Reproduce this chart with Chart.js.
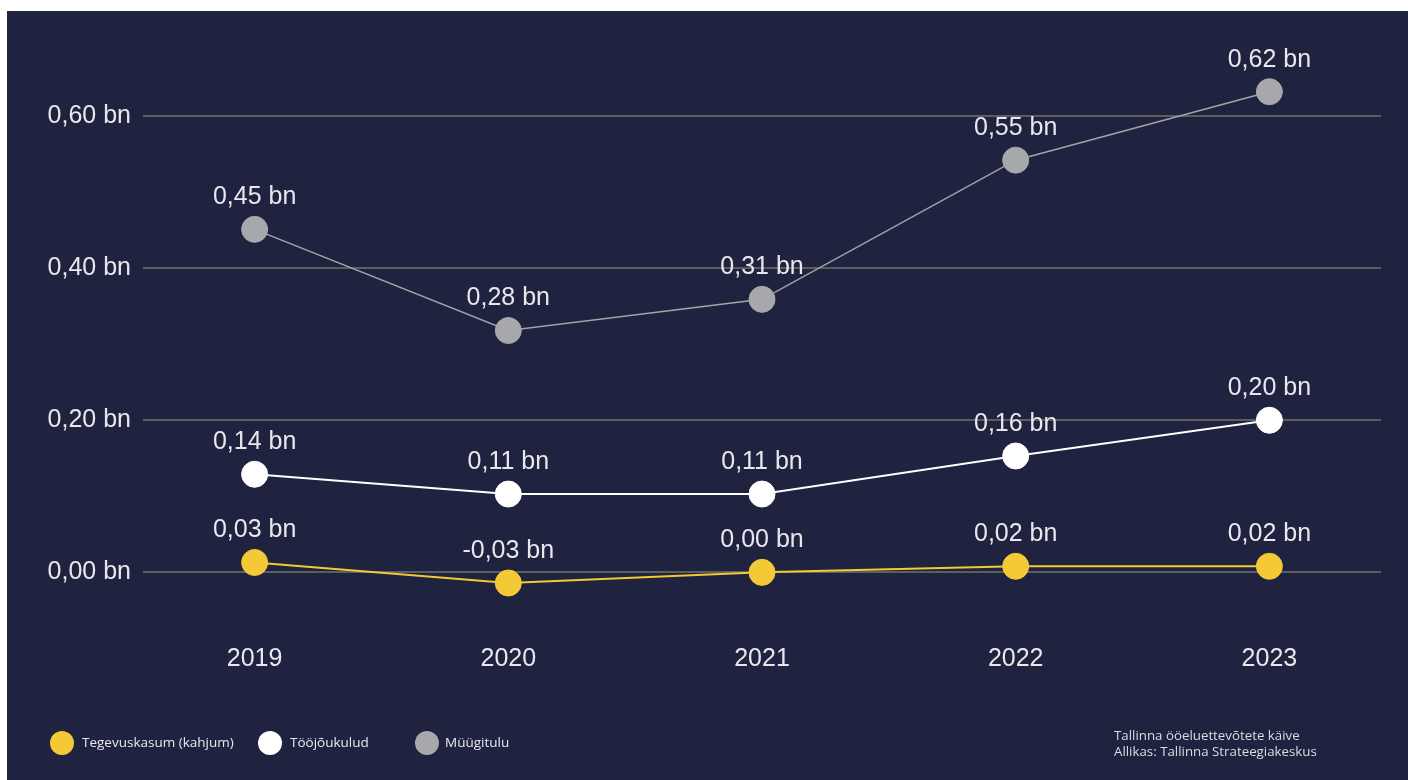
<!DOCTYPE html>
<html>
<head>
<meta charset="utf-8">
<script src="https://cdn.jsdelivr.net/npm/chart.js@4.4.1/dist/chart.umd.min.js"></script>
<style>
  html, body { margin: 0; padding: 0; background: #ffffff; width: 1408px; height: 780px; overflow: hidden; }
  #wrap { position: absolute; left: 7px; top: 11px; width: 1401px; height: 769px; background: #1f2340; }
  #chart { position: absolute; left: 0; top: 0; }
  .leg { position: absolute; font-family: "Open Sans", "Noto Sans", sans-serif; font-size: 13.5px; color: #e9e9ee; line-height: 16px; }
  .dot { position: absolute; width: 24px; height: 24px; border-radius: 50%; }
  #src { position: absolute; left: 1107px; top: 716px; font-family: "Open Sans", "Noto Sans", sans-serif; font-size: 13.3px; line-height: 16px; color: #dcdce2; }
</style>
</head>
<body>
<div id="wrap">
  <canvas id="chart" width="1401" height="769"></canvas>
  <div class="dot" style="left:43px;top:720px;background:#f3ca35"></div>
  <div class="leg" style="left:75px;top:723px">Tegevuskasum (kahjum)</div>
  <div class="dot" style="left:251px;top:720px;background:#ffffff"></div>
  <div class="leg" style="left:283px;top:723px">Tööjõukulud</div>
  <div class="dot" style="left:408px;top:720px;background:#a7a8ab"></div>
  <div class="leg" style="left:438px;top:723px">Müügitulu</div>
  <div id="src">Tallinna ööeluettevõtete käive<br>Allikas: Tallinna Strateegiakeskus</div>
</div>
<script>
const years = [2019, 2020, 2021, 2022, 2023];
const yTicks = [0, 0.2, 0.4, 0.6];
const yTickLabels = ["0,00 bn", "0,20 bn", "0,40 bn", "0,60 bn"];

const tegevuskasum = [0.013, -0.014, 0.0, 0.008, 0.008];
const tegevuskasumLabels = ["0,03 bn", "-0,03 bn", "0,00 bn", "0,02 bn", "0,02 bn"];

const toojoukulud = [0.129, 0.103, 0.103, 0.153, 0.20];
const toojoukuludLabels = ["0,14 bn", "0,11 bn", "0,11 bn", "0,16 bn", "0,20 bn"];

const myygitulu = [0.451, 0.318, 0.359, 0.542, 0.632];
const myygituluLabels = ["0,45 bn", "0,28 bn", "0,31 bn", "0,55 bn", "0,62 bn"];

const textFont = '"Liberation Sans", Arial, sans-serif';

function pts(vals) { return vals.map((v, i) => ({ x: years[i], y: v })); }

const labelPlugin = {
  id: 'pointLabels',
  afterDatasetsDraw(chart) {
    const ctx = chart.ctx;
    ctx.save();
    ctx.font = '25px ' + textFont;
    ctx.fillStyle = '#e8e8ec';
    ctx.textAlign = 'center';
    ctx.textBaseline = 'middle';
    chart.data.datasets.forEach((ds, di) => {
      const meta = chart.getDatasetMeta(di);
      meta.data.forEach((el, i) => {
        ctx.fillText(ds.valueLabels[i], el.x, el.y - 32);
      });
    });
    ctx.restore();
  }
};

new Chart(document.getElementById('chart'), {
  type: 'line',
  data: {
    datasets: [
      { label: 'Tegevuskasum (kahjum)', data: pts(tegevuskasum), valueLabels: tegevuskasumLabels,
        borderColor: '#f3ca35', backgroundColor: '#f3ca35', pointBackgroundColor: '#f3ca35', pointBorderColor: '#f3ca35',
        borderWidth: 2, pointRadius: 13, pointBorderWidth: 1, pointHoverRadius: 13 },
      { label: 'Tööjõukulud', data: pts(toojoukulud), valueLabels: toojoukuludLabels,
        borderColor: '#ffffff', backgroundColor: '#ffffff', pointBackgroundColor: '#ffffff', pointBorderColor: '#ffffff',
        borderWidth: 2, pointRadius: 13, pointBorderWidth: 1, pointHoverRadius: 13 },
      { label: 'Müügitulu', data: pts(myygitulu), valueLabels: myygituluLabels,
        borderColor: '#a3a4a7', backgroundColor: '#a7a8ab', pointBackgroundColor: '#a7a8ab', pointBorderColor: '#a7a8ab',
        borderWidth: 1.5, pointRadius: 13, pointBorderWidth: 1, pointHoverRadius: 13 }
    ]
  },
  options: {
    responsive: false,
    animation: false,
    layout: { padding: { top: 29, right: 27, left: 0, bottom: 0 } },
    plugins: { legend: { display: false }, tooltip: { enabled: false } },
    scales: {
      x: {
        type: 'linear', min: 2018.56, max: 2023.44,
        grid: { display: false }, border: { display: false },
        afterBuildTicks(s) { s.ticks = years.map(v => ({ value: v })); },
        afterFit(s) { s.height = 162; },
        ticks: { padding: 18, color: '#e8e8ec', font: { family: textFont, size: 25 },
          callback: (v) => String(v) }
      },
      y: {
        min: -0.06, max: 0.70,
        border: { display: false },
        grid: { color: '#5b5e5c', lineWidth: 2, drawTicks: false },
        afterBuildTicks(s) { s.ticks = yTicks.map(v => ({ value: v })); },
        afterFit(s) { s.width = 136; },
        ticks: { padding: 12, color: '#e8e8ec', font: { family: textFont, size: 25 },
          callback: (v) => { const i = yTicks.findIndex(t => Math.abs(t - v) < 1e-9); return i >= 0 ? yTickLabels[i] : ''; } }
      }
    }
  },
  plugins: [labelPlugin]
});
</script>
</body>
</html>
